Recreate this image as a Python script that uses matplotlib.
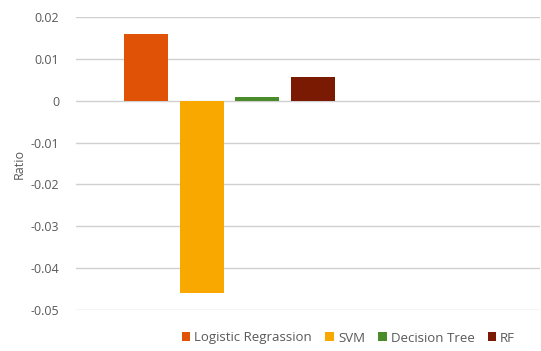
import matplotlib
matplotlib.use("Agg")
import matplotlib.pyplot as plt
from matplotlib.patches import Patch

models = ["Logistic Regrassion", "SVM", "Decision Tree", "RF"]
ratios = [0.016, -0.046, 0.001, 0.0057]
colors = ["#e05206", "#f9a800", "#4a8c2a", "#7a1a02"]
yticks = [0.02, 0.01, 0, -0.01, -0.02, -0.03, -0.04, -0.05]
ytick_labels = ["0.02", "0.01", "0", "-0.01", "-0.02", "-0.03", "-0.04", "-0.05"]

plt.rcParams['font.family'] = ['Open Sans', 'DejaVu Sans']

fig = plt.figure(figsize=(5.41, 3.51), dpi=100)
ax = fig.add_axes([76/541, 1-310/351, 464/541, 293/351])

xs = list(range(len(models)))
ax.bar(xs, ratios, width=0.79, color=colors, zorder=3)
ax.set_xlim(-1.257, 7.07)
ax.set_ylim(-0.05, 0.02)
ax.set_yticks(yticks)
ax.set_yticklabels(ytick_labels)
ax.set_xticks([])
ax.yaxis.grid(True, color="#d0d0d0", linewidth=1, zorder=0)
for s in ax.spines.values():
    s.set_visible(False)
ax.tick_params(axis='y', length=0, pad=12, labelsize=9, labelcolor="#595959")
ax.set_ylabel("Ratio", fontsize=9, color="#595959")
ax.yaxis.set_label_coords(-50/464, 0.5)

handles = [Patch(facecolor=c, label=m) for c, m in zip(colors, models)]
fig.legend(handles=handles, loc='center left', bbox_to_anchor=(170/541, 1-338/351),
           ncol=4, frameon=False, fontsize=9.5, handlelength=0.65, handleheight=0.65,
           handletextpad=0.3, columnspacing=1.0, labelcolor="#595959")

fig.savefig("out.png", dpi=100)
